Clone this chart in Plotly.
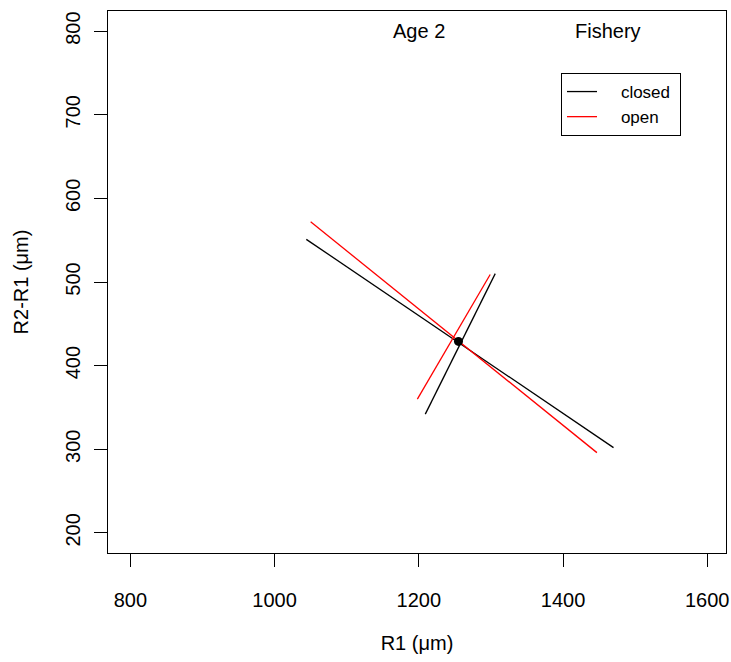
import plotly.graph_objects as go

# Data
groups = ["closed", "open"]
colors = {"closed": "black", "open": "red"}
long_x = {"closed": [1044, 1470], "open": [1050, 1447]}
long_y = {"closed": [551, 302], "open": [572, 296]}
short_x = {"closed": [1209, 1306], "open": [1198, 1299]}
short_y = {"closed": [342, 510], "open": [360, 509]}
center_x = [1255]
center_y = [429]

x_ticks = [800, 1000, 1200, 1400, 1600]
y_ticks = [200, 300, 400, 500, 600, 700, 800]

label_texts = ["Age 2", "Fishery"]
label_x = [1200, 1463]
label_y = [800, 800]

FONT = "Liberation Sans, Arial, sans-serif"
PAD = "\u00a0\u00a0\u00a0\u00a0"

fig = go.Figure()
for g in groups:
    fig.add_trace(go.Scatter(x=long_x[g], y=long_y[g], mode="lines",
                             line=dict(color=colors[g], width=1.3),
                             name=PAD + g + "\u00a0", legendgroup=g, showlegend=True))
    fig.add_trace(go.Scatter(x=short_x[g], y=short_y[g], mode="lines",
                             line=dict(color=colors[g], width=1.3),
                             name=PAD + g, legendgroup=g, showlegend=False))

fig.add_trace(go.Scatter(x=center_x, y=center_y, mode="markers",
                         marker=dict(color="black", size=9),
                         showlegend=False))

for t, xx, yy in zip(label_texts, label_x, label_y):
    fig.add_annotation(x=xx, y=yy, text=t, showarrow=False,
                       font=dict(size=20, color="black", family=FONT),
                       xanchor="center", yanchor="middle")

fig.update_xaxes(range=[769, 1626], tickvals=x_ticks,
                 ticktext=[str(v) for v in x_ticks],
                 showgrid=False, zeroline=False, automargin=False,
                 showline=True, linecolor="black", linewidth=1, mirror=True,
                 ticks="outside", ticklen=13, tickcolor="black", tickwidth=1,
                 ticklabelstandoff=16,
                 tickfont=dict(size=20, family=FONT, color="black"),
                 title=dict(text="R1 (\u03bcm)", font=dict(size=20, family=FONT, color="black"),
                            standoff=25))
fig.update_yaxes(range=[176, 824], tickvals=y_ticks,
                 ticktext=[str(v) for v in y_ticks],
                 showgrid=False, zeroline=False, automargin=False,
                 showline=True, linecolor="black", linewidth=1, mirror=True,
                 ticks="outside", ticklen=13, tickcolor="black", tickwidth=1,
                 tickangle=-90, ticklabelstandoff=6,
                 tickfont=dict(size=20, family=FONT, color="black"),
                 title=dict(text="R2-R1 (\u03bcm)", font=dict(size=20, family=FONT, color="black"),
                            standoff=28))

fig.update_layout(
    width=731, height=662,
    margin=dict(l=108, r=5, t=11, b=109),
    plot_bgcolor="white", paper_bgcolor="white",
    font=dict(family=FONT, color="black"),
    legend=dict(x=0.733, y=0.8856, xanchor="left", yanchor="top",
                bgcolor="white", bordercolor="black", borderwidth=1,
                font=dict(size=17, family=FONT, color="black"),
                tracegroupgap=0),
)

fig.write_html("out.html",
               config={"displayModeBar": False},
               post_script="document.body.style.margin='0px';document.body.style.overflow='hidden';")
